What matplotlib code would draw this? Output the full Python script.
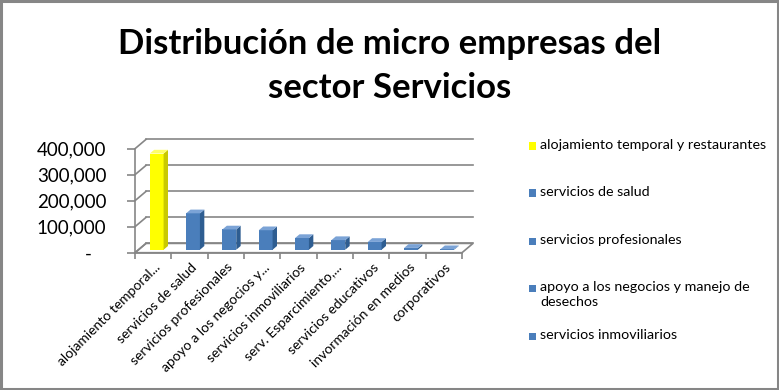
import matplotlib
matplotlib.use("Agg")
import matplotlib.pyplot as plt
from matplotlib.patches import Polygon, Rectangle
import matplotlib.transforms as mtrans

# ---------------- data ----------------
categories = [
    "alojamiento temporal y restaurantes",
    "servicios de salud",
    "servicios profesionales",
    "apoyo a los negocios y manejo de desechos",
    "servicios inmoviliarios",
    "serv. Esparcimiento, culturales y deportivos",
    "servicios educativos",
    "invormación en medios",
    "corporativos",
]
tick_labels = [
    "alojamiento temporal...",
    "servicios de salud",
    "servicios profesionales",
    "apoyo a los negocios y...",
    "servicios inmoviliarios",
    "serv. Esparcimiento,...",
    "servicios educativos",
    "invormación en medios",
    "corporativos",
]
values = [370000, 140000, 78000, 75000, 45000, 37000, 30000, 7000, 2000]
ytick_values = [0, 100000, 200000, 300000, 400000]
ytick_labels = ["-   ", "100,000", "200,000", "300,000", "400,000"]
legend_labels = [
    "alojamiento temporal y restaurantes",
    "servicios de salud",
    "servicios profesionales",
    "apoyo a los negocios y manejo de\ndesechos",
    "servicios inmoviliarios",
]
title = "Distribución de micro empresas del\nsector Servicios"

# ---------------- style ----------------
FONT = ["Lato", "DejaVu Sans"]
plt.rcParams["font.family"] = FONT
W, H = 779, 390
GRID = "#868686"
YEL = ("#FFFF00", "#C9C900", "#FFFF66")   # front, side, top
BLU = ("#4A7EBB", "#2E5D91", "#7BA3D6")

fig = plt.figure(figsize=(W / 100, H / 100), dpi=100)

# outer frame
fig.patches.append(Rectangle((0.0015, 0.003), 0.997, 0.994, transform=fig.transFigure,
                             fill=False, edgecolor=GRID, linewidth=2.2))

fig.text(0.5, 1 - 66 / H, title, ha="center", va="center", fontsize=25,
         fontweight="bold", linespacing=1.5, family=FONT)

x0px, x1px, y0px, y1px = 135, 462, 252.7, 148.7
ax = fig.add_axes([x0px / W, 1 - y0px / H, (x1px - x0px) / W, (y0px - y1px) / H])
n = len(values)
ax.set_xlim(0, n)
ax.set_ylim(0, 400000)
ax.patch.set_alpha(0)

# depth offsets in data units
DX = 11 / ((x1px - x0px) / n)
DY = 9.3 / (y0px - y1px) * 400000

# floor
ax.add_patch(Polygon([(0, 0), (n, 0), (n + DX, DY), (DX, DY)], closed=True,
                     facecolor="white", edgecolor=GRID, linewidth=1.2, clip_on=False, zorder=1))
# back wall gridlines + side wall diagonals
for yv in ytick_values:
    ax.plot([DX, n + DX], [yv + DY, yv + DY], color=GRID, lw=1.2, clip_on=False, zorder=1)
    ax.plot([0, DX], [yv, yv + DY], color=GRID, lw=1.2, clip_on=False, zorder=1)

# bars
bw = 0.38
f, b = 0.32, 0.72
for i, v in enumerate(values):
    front, side, top = YEL if i == 0 else BLU
    xl = i + 0.5 - bw / 2
    xr = i + 0.5 + bw / 2
    ax.add_patch(Polygon([(xl + f * DX, f * DY), (xr + f * DX, f * DY),
                          (xr + f * DX, v + f * DY), (xl + f * DX, v + f * DY)],
                         closed=True, facecolor=front, edgecolor="none", clip_on=False, zorder=3))
    ax.add_patch(Polygon([(xr + f * DX, f * DY), (xr + b * DX, b * DY),
                          (xr + b * DX, v + b * DY), (xr + f * DX, v + f * DY)],
                         closed=True, facecolor=side, edgecolor="none", clip_on=False, zorder=3))
    ax.add_patch(Polygon([(xl + f * DX, v + f * DY), (xr + f * DX, v + f * DY),
                          (xr + b * DX, v + b * DY), (xl + b * DX, v + b * DY)],
                         closed=True, facecolor=top, edgecolor="none", clip_on=False, zorder=3))

# axes
for s in ["top", "right"]:
    ax.spines[s].set_visible(False)
ax.spines["left"].set_color(GRID)
ax.spines["bottom"].set_color(GRID)
ax.spines["left"].set_linewidth(1.2)
ax.spines["bottom"].set_linewidth(1.2)
ax.set_yticks(ytick_values, ytick_labels)
ax.tick_params(axis="y", length=6, color=GRID, width=1.2, labelsize=13.5, pad=14.5)
ax.set_xticks(range(n + 1))
ax.set_xticklabels([""] * (n + 1))
ax.set_xticks([i + 0.5 for i in range(n)], minor=True)
ax.set_xticklabels(tick_labels, minor=True, rotation=45, ha="right",
                   rotation_mode="anchor", fontsize=10)
ax.tick_params(axis="x", which="major", length=4, color=GRID, width=1.2)
ax.tick_params(axis="x", which="minor", length=0, pad=6)
for lab in ax.get_xticklabels(minor=True):
    lab.set_transform(lab.get_transform() + mtrans.ScaledTranslation(1 / 100, 0, fig.dpi_scale_trans))

# legend (manual, as Excel shows only the first five entries)
leg_y = [146, 193, 241, 288, 336]
for i, (lab, yy) in enumerate(zip(legend_labels, leg_y)):
    col = YEL[0] if i == 0 else BLU[0]
    fig.patches.append(Rectangle((529 / W, 1 - (yy + 3.5) / H), 7 / W, 7 / H,
                                 transform=fig.transFigure, facecolor=col, edgecolor="none"))
    fig.text(540 / W, 1 - (yy - 7) / H, lab, ha="left", va="top", fontsize=10.3,
             linespacing=1.35)

fig.savefig("out.png", dpi=100)
